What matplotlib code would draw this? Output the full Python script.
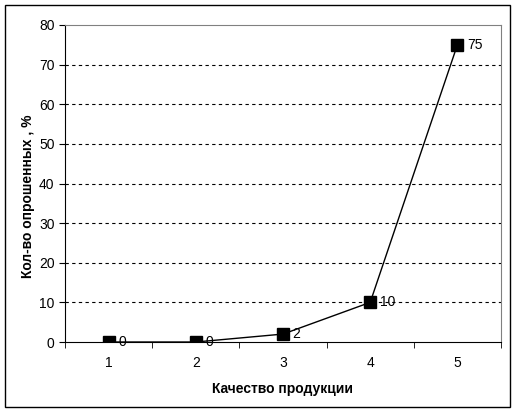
import numpy as np
import matplotlib
matplotlib.use('Agg')
import matplotlib.pyplot as plt
from matplotlib.patches import Rectangle

plt.rcParams['font.family'] = ['Liberation Sans', 'DejaVu Sans']

# data
quality = [1, 2, 3, 4, 5]
share = [0, 0, 2, 10, 75]
labels = ['0', '0', '2', '10', '75']

fig = plt.figure(figsize=(5.16, 4.12), dpi=100)
ax = fig.add_axes([65 / 516, 70 / 412, 436 / 516, 317 / 412])

ax.plot(quality, share, color='black', lw=1, marker='s', ms=8, zorder=4)

for xi, yi, lab in zip(quality, share, labels):
    ax.annotate(lab, (xi, yi), xytext=(7, 0), textcoords='offset points',
                va='center', ha='left', fontsize=10)

ax.set_xlim(0.5, 5.5)
ax.set_ylim(0, 80)
ax.set_yticks(range(0, 81, 10))
ax.set_xticks(quality)
ax.set_xticks(np.arange(0.5, 5.6, 1), minor=True)
ax.tick_params(axis='x', which='major', length=0, pad=10, labelsize=10)
ax.tick_params(axis='x', which='minor', length=4, direction='out')
ax.tick_params(axis='y', length=4, direction='out', labelsize=10)
for v in range(10, 71, 10):
    ax.axhline(v, color='black', lw=0.8, ls=(0, (3, 3)), zorder=1)

ax.spines['top'].set_color('#808080')
ax.spines['right'].set_color('#808080')
ax.spines['left'].set_color('black')
ax.spines['bottom'].set_color('black')

ax.set_xlabel('Качество продукции', fontsize=10, fontweight='bold', labelpad=9)
ax.set_ylabel('Кол-во опрошенных , %', fontsize=10, fontweight='bold')
ax.yaxis.set_label_coords(-0.068, 0.46)

fig.patches.append(Rectangle((5 / 516, 5 / 412), 505 / 516, 402 / 412, transform=fig.transFigure,
                             fill=False, edgecolor='black', lw=1))

fig.savefig('out.png', dpi=100)
